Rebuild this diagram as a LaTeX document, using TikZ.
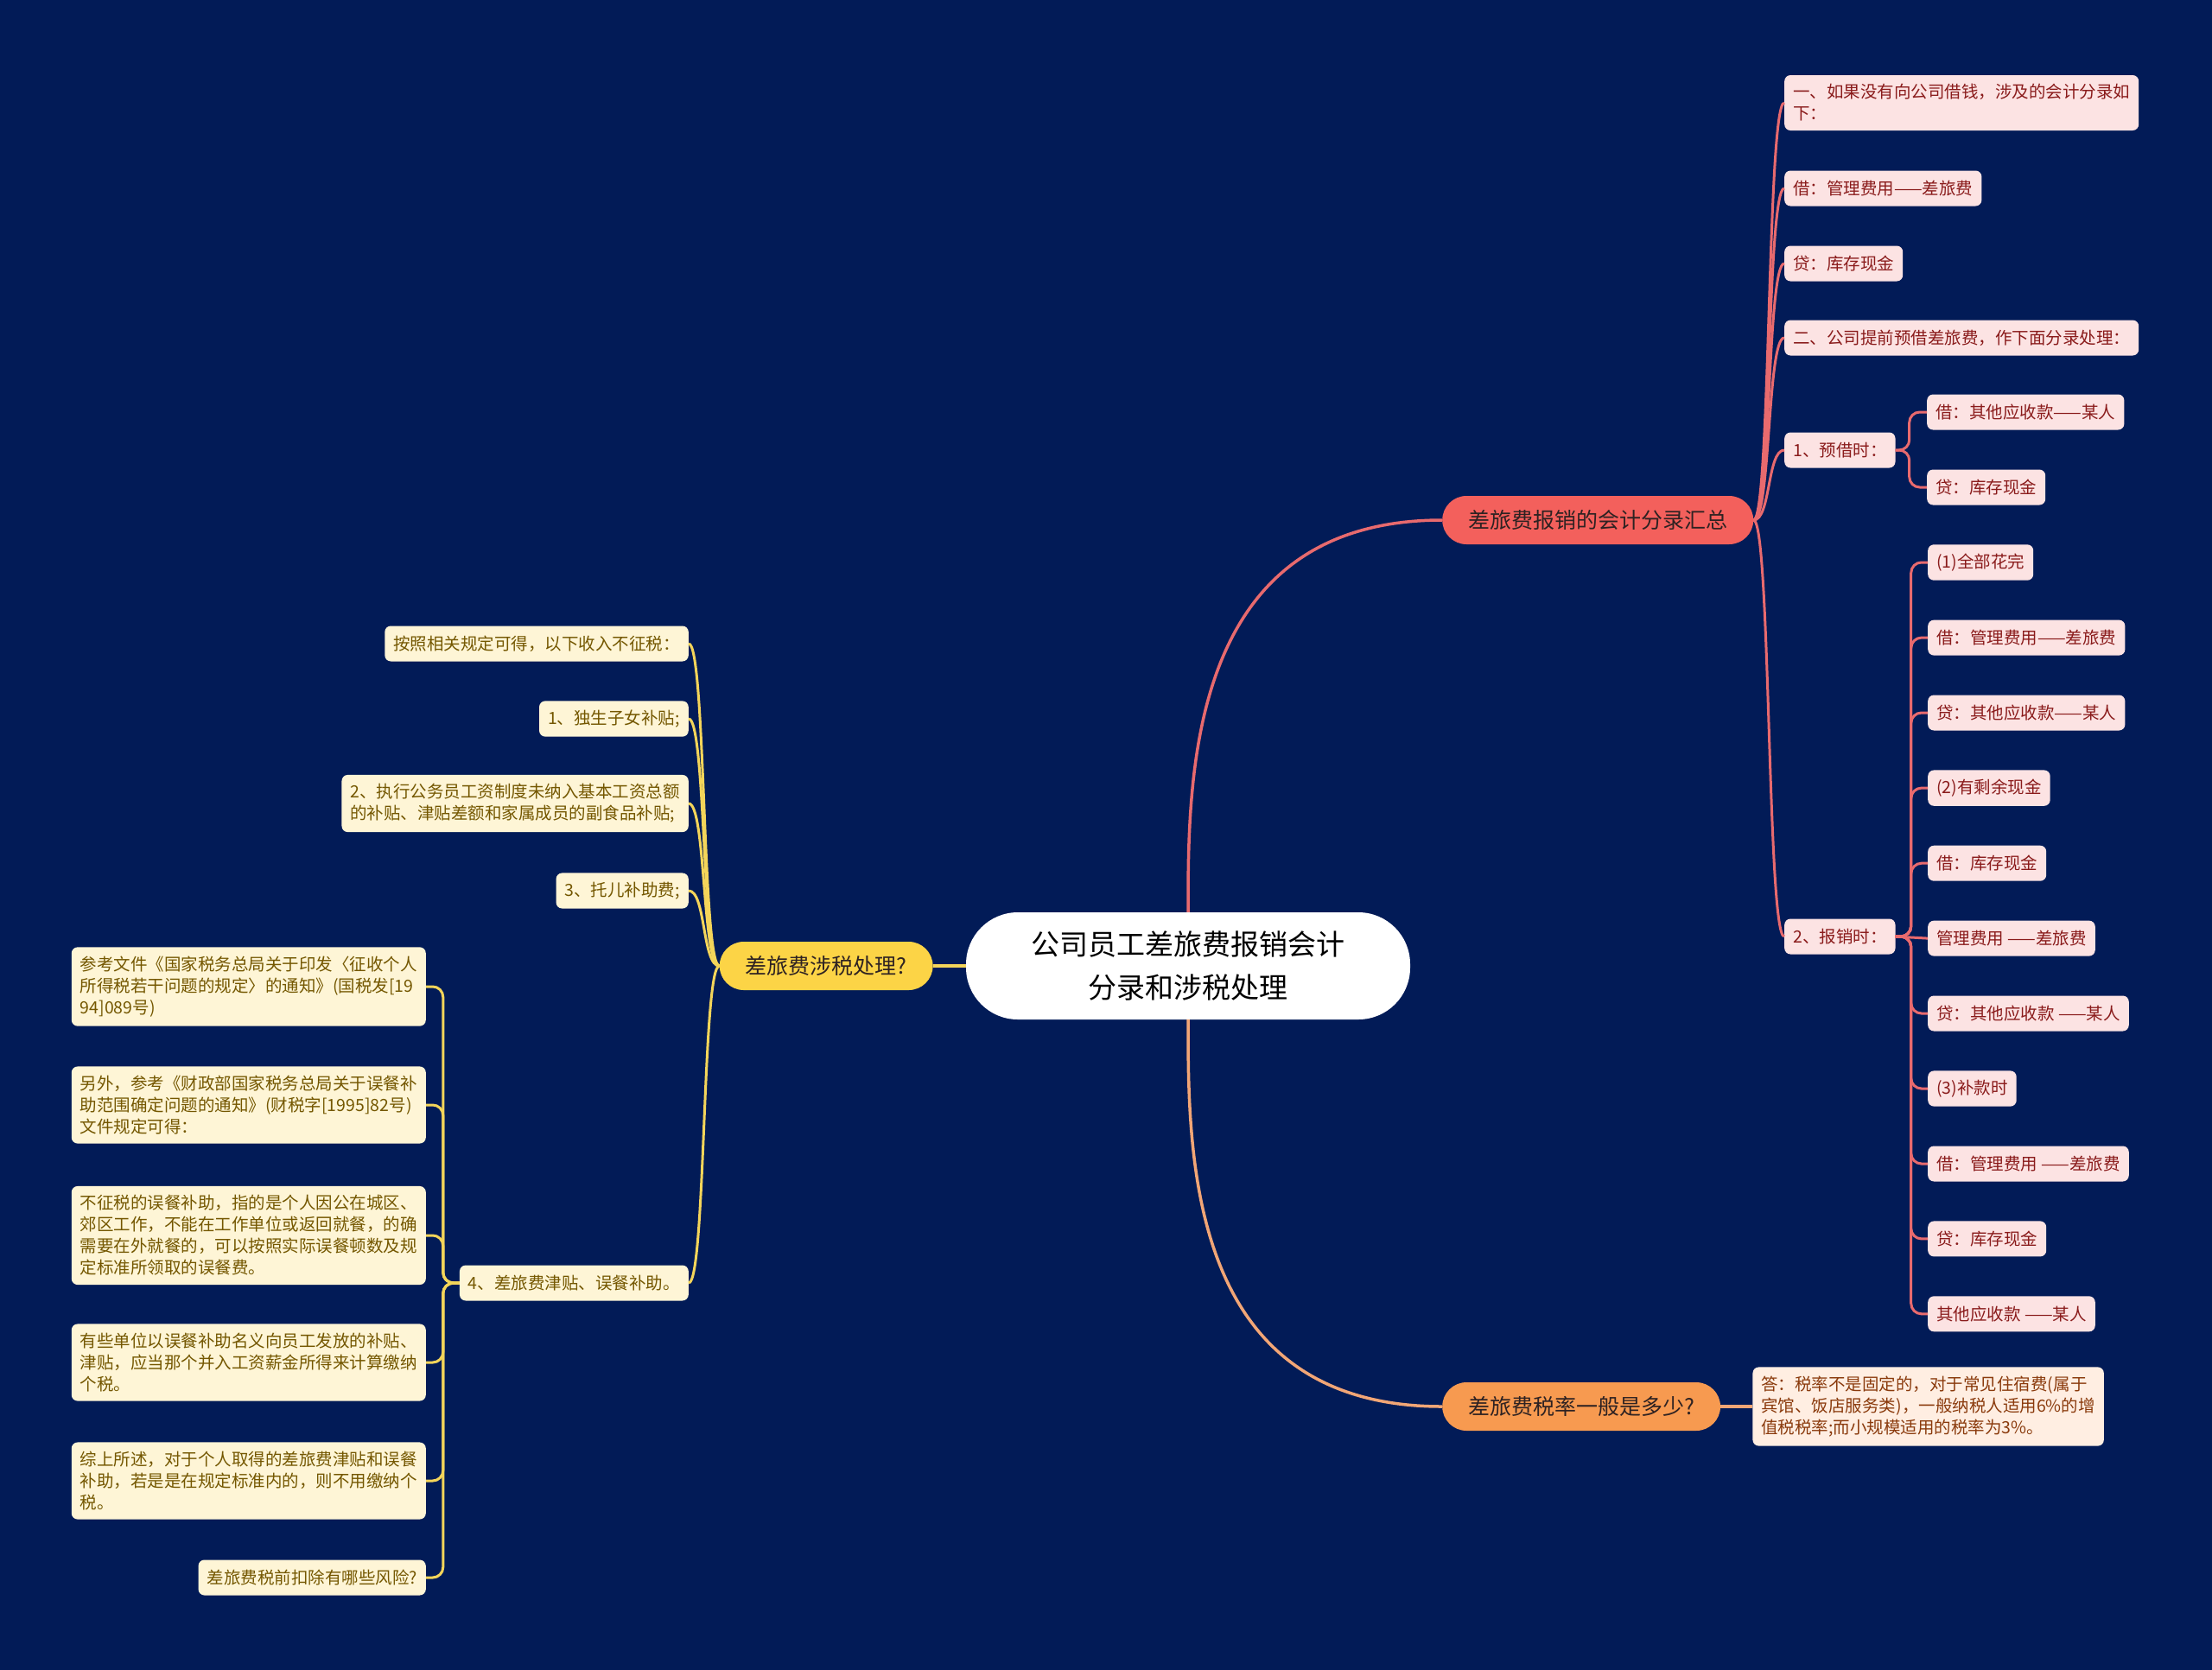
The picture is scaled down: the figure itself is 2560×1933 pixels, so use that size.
\documentclass[tikz,border=0pt]{standalone}
\usepackage{fontspec}
\setmainfont{Noto Sans CJK SC}
\usetikzlibrary{positioning}
\definecolor{TRNavy}{HTML}{021B57}
\definecolor{TRRed}{HTML}{F3605C}
\definecolor{TRRedLine}{HTML}{E86A6E}
\definecolor{TRPink}{HTML}{FCE3E3}
\definecolor{TRRedText}{HTML}{8A1B1B}
\definecolor{TROrange}{HTML}{F79A50}
\definecolor{TROrangeLine}{HTML}{F2A676}
\definecolor{TRPeach}{HTML}{FFEEE2}
\definecolor{TROrangeText}{HTML}{8A3A0C}
\definecolor{TRYellow}{HTML}{FCD446}
\definecolor{TRYellowLine}{HTML}{F4D55A}
\definecolor{TRCream}{HTML}{FEF5D6}
\definecolor{TRYellowText}{HTML}{745700}
\definecolor{TRDark}{HTML}{2E2222}
\tikzset{
  trRoot/.style={
    rectangle, rounded corners=60pt, fill=white, text=black,
    align=center, minimum width=514pt, minimum height=124pt,
    font=\fontsize{33}{50}\selectfont
  },
  trBranch/.style={
    rectangle, rounded corners=28pt, fill=#1, text=TRDark,
    minimum height=56pt, inner xsep=30pt, font=\fontsize{25}{30}\selectfont
  },
  trBranch/.default=TRRed,
  trLeaf/.style={
    rectangle, rounded corners=7pt, align=left, inner xsep=10pt,
    inner ysep=10.5pt, minimum height=41pt, font=\fontsize{19.5}{25}\selectfont
  },
  trLeafRed/.style={trLeaf, fill=TRPink, text=TRRedText},
  trLeafOrange/.style={trLeaf, fill=TRPeach, text=TROrangeText},
  trLeafYellow/.style={trLeaf, fill=TRCream, text=TRYellowText},
  trLink/.style={draw=#1, line width=3.5pt},
  trLink/.default=TRRedLine,
  trElbow/.style={draw=#1, line width=3pt, rounded corners=12pt},
  trElbow/.default=TRRedLine
}
\begin{document}
\begin{tikzpicture}[x=1pt, y=-1pt, node distance=45.5pt]
  \fill[TRNavy] (0,0) rectangle (2560,1933);

  % centre and main branches
  \node[trRoot] (root) at (1375,1118) {公司员工差旅费报销会计\\分录和涉税处理};
  \node[trBranch=TRRed, anchor=west] (acct) at (1669,602) {差旅费报销的会计分录汇总};
  \node[trBranch=TROrange, anchor=west] (rate) at (1669,1628) {差旅费税率一般是多少?};
  \node[trBranch=TRYellow, left=38pt of root] (tax) {差旅费涉税处理?};

  % accounting entries
  \node[trLeafRed, anchor=west] (noLoan) at (2065,119) {一、如果没有向公司借钱，涉及的会计分录如\\下：};
  \node[trLeafRed, anchor=west] (noDebit) at (2065,218) {借：管理费用——差旅费};
  \node[trLeafRed, anchor=west] (noCredit) at (2065,305) {贷：库存现金};
  \node[trLeafRed, anchor=west] (advance) at (2065,391) {二、公司提前预借差旅费，作下面分录处理：};
  \node[trLeafRed, anchor=west] (borrow) at (2065,521) {1、预借时：};
  \node[trLeafRed, anchor=west] (borrowDebit) at (2230,477) {借：其他应收款——某人};
  \node[trLeafRed, anchor=west] (borrowCredit) at (2230,564) {贷：库存现金};
  \node[trLeafRed, anchor=west] (claim) at (2065,1084) {2、报销时：};

  \node[trLeafRed, anchor=west] (spent) at (2231,651) {(1)全部花完};
  \node[trLeafRed, below=of spent.south west, anchor=north west] (spentDebit) {借：管理费用——差旅费};
  \node[trLeafRed, below=of spentDebit.south west, anchor=north west] (spentCredit) {贷：其他应收款——某人};
  \node[trLeafRed, below=of spentCredit.south west, anchor=north west] (left) {(2)有剩余现金};
  \node[trLeafRed, below=of left.south west, anchor=north west] (leftCash) {借：库存现金};
  \node[trLeafRed, below=of leftCash.south west, anchor=north west] (leftFee) {管理费用 ——差旅费};
  \node[trLeafRed, below=of leftFee.south west, anchor=north west] (leftCredit) {贷：其他应收款 ——某人};
  \node[trLeafRed, below=of leftCredit.south west, anchor=north west] (topUp) {(3)补款时};
  \node[trLeafRed, below=of topUp.south west, anchor=north west] (topUpDebit) {借：管理费用 ——差旅费};
  \node[trLeafRed, below=of topUpDebit.south west, anchor=north west] (topUpCash) {贷：库存现金};
  \node[trLeafRed, below=of topUpCash.south west, anchor=north west] (topUpRecv) {其他应收款 ——某人};

  % rate answer
  \node[trLeafOrange, right=37pt of rate] (answer) {答：税率不是固定的，对于常见住宿费(属于\\宾馆、饭店服务类)，一般纳税人适用6\%的增\\值税税率;而小规模适用的税率为3\%。};

  % tax treatment
  \node[trLeafYellow, anchor=east] (exempt) at (797,745) {按照相关规定可得，以下收入不征税：};
  \node[trLeafYellow, anchor=east] (child) at (797,832) {1、独生子女补贴;};
  \node[trLeafYellow, anchor=east] (civil) at (797,930) {2、执行公务员工资制度未纳入基本工资总额\\的补贴、津贴差额和家属成员的副食品补贴;};
  \node[trLeafYellow, anchor=east] (nursery) at (797,1031) {3、托儿补助费;};
  \node[trLeafYellow, anchor=east] (meal) at (797,1485) {4、差旅费津贴、误餐补助。};

  \node[trLeafYellow, anchor=east] (doc1) at (493,1142) {参考文件《国家税务总局关于印发〈征收个人\\所得税若干问题的规定〉的通知》(国税发[19\\94]089号)};
  \node[trLeafYellow, anchor=east] (doc2) at (493,1279) {另外，参考《财政部国家税务总局关于误餐补\\助范围确定问题的通知》(财税字[1995]82号)\\文件规定可得：};
  \node[trLeafYellow, anchor=east] (mealFree) at (493,1430) {不征税的误餐补助，指的是个人因公在城区、\\郊区工作，不能在工作单位或返回就餐，的确\\需要在外就餐的，可以按照实际误餐顿数及规\\定标准所领取的误餐费。};
  \node[trLeafYellow, anchor=east] (mealPay) at (493,1577) {有些单位以误餐补助名义向员工发放的补贴、\\津贴，应当那个并入工资薪金所得来计算缴纳\\个税。};
  \node[trLeafYellow, anchor=east] (summary) at (493,1714) {综上所述，对于个人取得的差旅费津贴和误餐\\补助，若是是在规定标准内的，则不用缴纳个\\税。};
  \node[trLeafYellow, anchor=east] (risk) at (493,1826) {差旅费税前扣除有哪些风险?};

  % connectors from the centre
  \draw[trLink=TRRedLine] (root.north) .. controls +(0,-160) and (root.north |- acct.west) .. (acct.west);
  \draw[trLink=TROrangeLine] (root.south) .. controls +(0,160) and (root.south |- rate.west) .. (rate.west);
  \draw[trLink=TRYellowLine] (root.west) -- (tax.east);
  \draw[trLink=TROrangeLine] (rate.east) -- (answer.west);

  % accounting connectors
  \draw[trLink=TRRedLine, line width=3pt] (acct.east) .. controls +(20,0) and +(-20,0) .. (noLoan.west);
  \draw[trLink=TRRedLine, line width=3pt] (acct.east) .. controls +(20,0) and +(-20,0) .. (noDebit.west);
  \draw[trLink=TRRedLine, line width=3pt] (acct.east) .. controls +(20,0) and +(-20,0) .. (noCredit.west);
  \draw[trLink=TRRedLine, line width=3pt] (acct.east) .. controls +(20,0) and +(-20,0) .. (advance.west);
  \draw[trLink=TRRedLine, line width=3pt] (acct.east) .. controls +(20,0) and +(-20,0) .. (borrow.west);
  \draw[trLink=TRRedLine, line width=3pt] (acct.east) .. controls +(20,0) and +(-20,0) .. (claim.west);

  \draw[trElbow] (borrow.east) -- ++(16,0) |- (borrowDebit.west);
  \draw[trElbow] (borrow.east) -- ++(16,0) |- (borrowCredit.west);

  \draw[trElbow] (claim.east) -- ++(18,0) |- (spent.west);
  \draw[trElbow] (claim.east) -- ++(18,0) |- (spentDebit.west);
  \draw[trElbow] (claim.east) -- ++(18,0) |- (spentCredit.west);
  \draw[trElbow] (claim.east) -- ++(18,0) |- (left.west);
  \draw[trElbow] (claim.east) -- ++(18,0) |- (leftCash.west);
  \draw[trElbow] (claim.east) -- (leftFee.west);
  \draw[trElbow] (claim.east) -- ++(18,0) |- (leftCredit.west);
  \draw[trElbow] (claim.east) -- ++(18,0) |- (topUp.west);
  \draw[trElbow] (claim.east) -- ++(18,0) |- (topUpDebit.west);
  \draw[trElbow] (claim.east) -- ++(18,0) |- (topUpCash.west);
  \draw[trElbow] (claim.east) -- ++(18,0) |- (topUpRecv.west);

  % tax connectors
  \draw[trLink=TRYellowLine, line width=3pt] (tax.west) .. controls +(-20,0) and +(20,0) .. (exempt.east);
  \draw[trLink=TRYellowLine, line width=3pt] (tax.west) .. controls +(-20,0) and +(20,0) .. (child.east);
  \draw[trLink=TRYellowLine, line width=3pt] (tax.west) .. controls +(-20,0) and +(20,0) .. (civil.east);
  \draw[trLink=TRYellowLine, line width=3pt] (tax.west) .. controls +(-20,0) and +(20,0) .. (nursery.east);
  \draw[trLink=TRYellowLine, line width=3pt] (tax.west) .. controls +(-20,0) and +(20,0) .. (meal.east);

  \draw[trElbow=TRYellowLine] (meal.west) -- ++(-19,0) |- (doc1.east);
  \draw[trElbow=TRYellowLine] (meal.west) -- ++(-19,0) |- (doc2.east);
  \draw[trElbow=TRYellowLine] (meal.west) -- ++(-19,0) |- (mealFree.east);
  \draw[trElbow=TRYellowLine] (meal.west) -- ++(-19,0) |- (mealPay.east);
  \draw[trElbow=TRYellowLine] (meal.west) -- ++(-19,0) |- (summary.east);
  \draw[trElbow=TRYellowLine] (meal.west) -- ++(-19,0) |- (risk.east);
\end{tikzpicture}
\end{document}
